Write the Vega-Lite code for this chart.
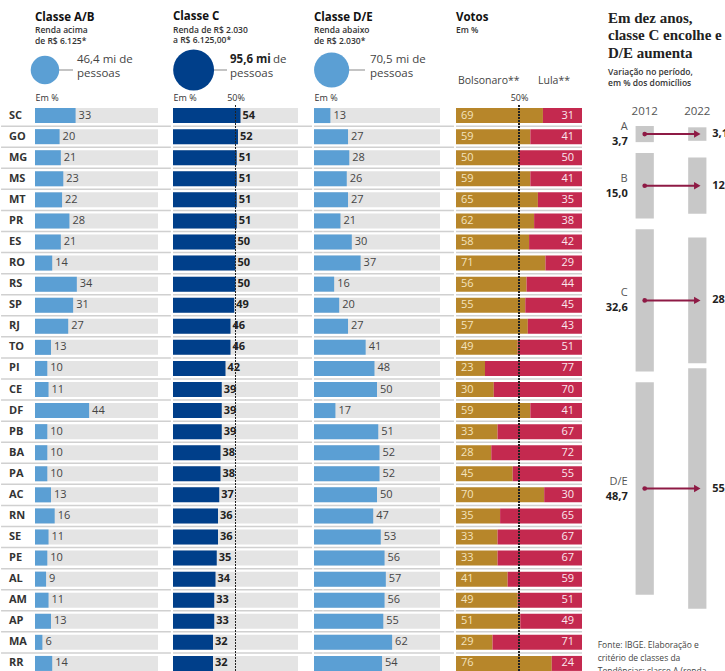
{
  "$schema": "https://vega.github.io/schema/vega-lite/v6.json",
  "background": "white",
  "padding": {"left": 0, "top": 10, "right": 0, "bottom": 0},
  "spacing": 0,
  "config": {
    "font": "Open Sans",
    "view": {"stroke": null},
    "locale": {"number": {"decimal": ",", "thousands": ".", "grouping": [3], "currency": ["R$ ", ""]}},
    "title": {"anchor": "start", "frame": "group", "fontSize": 11.5, "fontWeight": "bold", "color": "#111111", "subtitleFontSize": 8.5, "subtitleFontWeight": 600, "subtitleColor": "#333333", "subtitleLineHeight": 10.5, "subtitlePadding": 3, "offset": 5},
    "axisX": {"domain": false, "ticks": false, "grid": false, "labelFlush": false, "labelFontSize": 9, "labelColor": "#333333", "labelPadding": 3, "labelAngle": 0, "titleAnchor": "start", "titleAlign": "left", "titleX": 0, "titleY": -3, "titleBaseline": "bottom", "titleFontSize": 9, "titleFontWeight": "normal", "titleColor": "#333333", "titleAngle": 0}
  },
  "datasets": {
    "estados": [
      {"uf": "SC", "ab": 33, "c": 54, "de": 13, "bolso": 69, "lula": 31},
      {"uf": "GO", "ab": 20, "c": 52, "de": 27, "bolso": 59, "lula": 41},
      {"uf": "MG", "ab": 21, "c": 51, "de": 28, "bolso": 50, "lula": 50},
      {"uf": "MS", "ab": 23, "c": 51, "de": 26, "bolso": 59, "lula": 41},
      {"uf": "MT", "ab": 22, "c": 51, "de": 27, "bolso": 65, "lula": 35},
      {"uf": "PR", "ab": 28, "c": 51, "de": 21, "bolso": 62, "lula": 38},
      {"uf": "ES", "ab": 21, "c": 50, "de": 30, "bolso": 58, "lula": 42},
      {"uf": "RO", "ab": 14, "c": 50, "de": 37, "bolso": 71, "lula": 29},
      {"uf": "RS", "ab": 34, "c": 50, "de": 16, "bolso": 56, "lula": 44},
      {"uf": "SP", "ab": 31, "c": 49, "de": 20, "bolso": 55, "lula": 45},
      {"uf": "RJ", "ab": 27, "c": 46, "de": 27, "bolso": 57, "lula": 43},
      {"uf": "TO", "ab": 13, "c": 46, "de": 41, "bolso": 49, "lula": 51},
      {"uf": "PI", "ab": 10, "c": 42, "de": 48, "bolso": 23, "lula": 77},
      {"uf": "CE", "ab": 11, "c": 39, "de": 50, "bolso": 30, "lula": 70},
      {"uf": "DF", "ab": 44, "c": 39, "de": 17, "bolso": 59, "lula": 41},
      {"uf": "PB", "ab": 10, "c": 39, "de": 51, "bolso": 33, "lula": 67},
      {"uf": "BA", "ab": 10, "c": 38, "de": 52, "bolso": 28, "lula": 72},
      {"uf": "PA", "ab": 10, "c": 38, "de": 52, "bolso": 45, "lula": 55},
      {"uf": "AC", "ab": 13, "c": 37, "de": 50, "bolso": 70, "lula": 30},
      {"uf": "RN", "ab": 16, "c": 36, "de": 47, "bolso": 35, "lula": 65},
      {"uf": "SE", "ab": 11, "c": 36, "de": 53, "bolso": 33, "lula": 67},
      {"uf": "PE", "ab": 10, "c": 35, "de": 56, "bolso": 33, "lula": 67},
      {"uf": "AL", "ab": 9, "c": 34, "de": 57, "bolso": 41, "lula": 59},
      {"uf": "AM", "ab": 11, "c": 33, "de": 56, "bolso": 49, "lula": 51},
      {"uf": "AP", "ab": 13, "c": 33, "de": 55, "bolso": 51, "lula": 49},
      {"uf": "MA", "ab": 6, "c": 32, "de": 62, "bolso": 29, "lula": 71},
      {"uf": "RR", "ab": 14, "c": 32, "de": 54, "bolso": 76, "lula": 24}
    ],
    "populacao": [
      {"classe": "A/B", "pop": 46.4},
      {"classe": "C", "pop": 95.6},
      {"classe": "D/E", "pop": 70.5}
    ],
    "domicilios": [
      {"classe": "A", "ordem": 1, "2012": 3.7, "2022": 3.1},
      {"classe": "B", "ordem": 2, "2012": 15.0, "2022": 12.9},
      {"classe": "C", "ordem": 3, "2012": 32.6, "2022": 28.8},
      {"classe": "D/E", "ordem": 4, "2012": 48.7, "2022": 55.2}
    ]
  },
  "hconcat": [
    {
      "bounds": "flush",
      "spacing": 15,
      "vconcat": [
        {
          "width": 123, "height": 40,
          "title": {"text": "Classe A/B", "subtitle": ["Renda acima", "de R$ 6.125*"]},
          "data": {"name": "populacao"},
          "transform": [{"filter": "datum.classe == 'A/B'"}],
          "encoding": {"y": {"datum": 0, "type": "quantitative", "scale": {"domain": [-1, 1]}, "axis": null}},
          "layer": [
            {"mark": {"type": "rule", "color": "#b0b0b0", "strokeWidth": 1.5},
             "encoding": {"x": {"datum": 19.5, "type": "quantitative", "scale": {"domain": [0, 100], "nice": false, "zero": false}, "axis": null}, "x2": {"datum": 30.9}}},
            {"mark": {"type": "point", "filled": true, "opacity": 1, "color": "#5b9fd4"},
             "encoding": {"x": {"datum": 8.1, "type": "quantitative", "axis": null}, "size": {"field": "pop", "type": "quantitative", "scale": {"domain": [0, 100], "range": [0, 1750]}, "legend": null}}},
            {"mark": {"type": "text", "align": "left", "baseline": "middle", "fontSize": 11.5, "lineHeight": 14, "color": "#444444", "dy": -10, "text": ["46,4 mi de", "pessoas"]},
             "encoding": {"x": {"datum": 34.1, "type": "quantitative", "axis": null}}}
          ]
        },
        {
          "width": 123, "height": 569,
          "data": {"name": "estados"},
          "layer": [
            {"mark": {"type": "bar", "color": "#e4e4e4"},
             "encoding": {
               "y": {"field": "uf", "type": "nominal", "sort": null, "axis": null, "scale": {"domain": ["SC","GO","MG","MS","MT","PR","ES","RO","RS","SP","RJ","TO","PI","CE","DF","PB","BA","PA","AC","RN","SE","PE","AL","AM","AP","MA","RR"], "paddingInner": 0.288, "paddingOuter": 0.146}},
               "x": {"datum": 0, "type": "quantitative", "scale": {"domain": [0, 100], "nice": false, "zero": false}, "axis": {"orient": "top", "values": [], "labels": false, "title": "Em %"}},
               "x2": {"datum": 100}}},
            {"mark": {"type": "rule", "color": "#d0d0d0", "strokeWidth": 1.5, "yOffset": -3},
             "transform": [{"filter": "datum.uf != 'SC'"}],
             "encoding": {"x": {"datum": -27.6, "type": "quantitative", "axis": {"orient": "top", "values": [], "labels": false, "title": "Em %"}}, "x2": {"datum": 110.5}, "y": {"field": "uf", "type": "nominal", "sort": null, "bandPosition": 0, "axis": null}}},
            {"mark": {"type": "bar", "color": "#5b9fd4"},
             "encoding": {"x": {"field": "ab", "type": "quantitative", "axis": {"orient": "top", "values": [], "labels": false, "title": "Em %"}}, "y": {"field": "uf", "type": "nominal", "sort": null, "axis": null}}},
            {"mark": {"type": "text", "align": "left", "baseline": "middle", "dx": 3, "fontSize": 11, "color": "#444444"},
             "encoding": {"x": {"field": "ab", "type": "quantitative", "axis": {"orient": "top", "values": [], "labels": false, "title": "Em %"}}, "y": {"field": "uf", "type": "nominal", "sort": null, "axis": null}, "text": {"field": "ab", "type": "quantitative"}}},
            {"mark": {"type": "text", "align": "left", "baseline": "middle", "dx": -26, "fontSize": 11, "fontWeight": "bold", "color": "#333333"},
             "encoding": {"x": {"datum": 0, "type": "quantitative", "axis": {"orient": "top", "values": [], "labels": false, "title": "Em %"}}, "y": {"field": "uf", "type": "nominal", "sort": null, "axis": null}, "text": {"field": "uf", "type": "nominal"}}}
          ]
        }
      ]
    },
    {
      "bounds": "flush",
      "spacing": 15,
      "vconcat": [
        {
          "width": 125, "height": 40,
          "title": {"text": "Classe C", "subtitle": ["Renda de R$ 2.030", "a R$ 6.125,00*"]},
          "data": {"name": "populacao"},
          "transform": [{"filter": "datum.classe == 'C'"}],
          "encoding": {"y": {"datum": 0, "type": "quantitative", "scale": {"domain": [-1, 1]}, "axis": null}},
          "layer": [
            {"mark": {"type": "rule", "color": "#b0b0b0", "strokeWidth": 1.5},
             "encoding": {"x": {"datum": 32, "type": "quantitative", "scale": {"domain": [0, 100], "nice": false, "zero": false}, "axis": null}, "x2": {"datum": 43.2}}},
            {"mark": {"type": "point", "filled": true, "opacity": 1, "color": "#003f8a"},
             "encoding": {"x": {"datum": 16.5, "type": "quantitative", "axis": null}, "size": {"field": "pop", "type": "quantitative", "scale": {"domain": [0, 100], "range": [0, 1750]}, "legend": null}}},
            {"mark": {"type": "text", "align": "left", "baseline": "middle", "fontSize": 11.5, "fontWeight": "bold", "color": "#222222", "dy": -10, "text": "95,6 mi"},
             "encoding": {"x": {"datum": 45.6, "type": "quantitative", "axis": null}}},
            {"mark": {"type": "text", "align": "left", "baseline": "middle", "fontSize": 11.5, "color": "#444444", "dy": -10, "text": "de"},
             "encoding": {"x": {"datum": 80, "type": "quantitative", "axis": null}}},
            {"mark": {"type": "text", "align": "left", "baseline": "middle", "fontSize": 11.5, "color": "#444444", "dy": 4, "text": "pessoas"},
             "encoding": {"x": {"datum": 45.6, "type": "quantitative", "axis": null}}}
          ]
        },
        {
          "width": 125, "height": 569,
          "data": {"name": "estados"},
          "layer": [
            {"mark": {"type": "bar", "color": "#e4e4e4"},
             "encoding": {
               "y": {"field": "uf", "type": "nominal", "sort": null, "axis": null, "scale": {"domain": ["SC","GO","MG","MS","MT","PR","ES","RO","RS","SP","RJ","TO","PI","CE","DF","PB","BA","PA","AC","RN","SE","PE","AL","AM","AP","MA","RR"], "paddingInner": 0.288, "paddingOuter": 0.146}},
               "x": {"datum": 0, "type": "quantitative", "scale": {"domain": [0, 100], "nice": false, "zero": false}, "axis": {"orient": "top", "values": [50], "labelExpr": "'50%'", "title": "Em %"}},
               "x2": {"datum": 100}}},
            {"mark": {"type": "rule", "color": "#d0d0d0", "strokeWidth": 1.5, "yOffset": -3},
             "transform": [{"filter": "datum.uf != 'SC'"}],
             "encoding": {"x": {"datum": 0, "type": "quantitative", "axis": {"orient": "top", "values": [50], "labelExpr": "'50%'", "title": "Em %"}}, "x2": {"datum": 111.2}, "y": {"field": "uf", "type": "nominal", "sort": null, "bandPosition": 0, "axis": null}}},
            {"mark": {"type": "bar", "color": "#003f8a"},
             "encoding": {"x": {"field": "c", "type": "quantitative", "axis": {"orient": "top", "values": [50], "labelExpr": "'50%'", "title": "Em %"}}, "y": {"field": "uf", "type": "nominal", "sort": null, "axis": null}}},
            {"mark": {"type": "text", "align": "left", "baseline": "middle", "dx": 2, "fontSize": 11, "fontWeight": "bold", "color": "#222222"},
             "encoding": {"x": {"field": "c", "type": "quantitative", "axis": {"orient": "top", "values": [50], "labelExpr": "'50%'", "title": "Em %"}}, "y": {"field": "uf", "type": "nominal", "sort": null, "axis": null}, "text": {"field": "c", "type": "quantitative"}}},
            {"mark": {"type": "rule", "color": "#222222", "strokeWidth": 1, "strokeDash": [1.5, 1.5]},
             "encoding": {"x": {"datum": 50, "type": "quantitative", "axis": {"orient": "top", "values": [50], "labelExpr": "'50%'", "title": "Em %"}}}}
          ]
        }
      ]
    },
    {
      "bounds": "flush",
      "spacing": 15,
      "vconcat": [
        {
          "width": 126, "height": 40,
          "title": {"text": "Classe D/E", "subtitle": ["Renda abaixo", "de R$ 2.030*"]},
          "data": {"name": "populacao"},
          "transform": [{"filter": "datum.classe == 'D/E'"}],
          "encoding": {"y": {"datum": 0, "type": "quantitative", "scale": {"domain": [-1, 1]}, "axis": null}},
          "layer": [
            {"mark": {"type": "rule", "color": "#b0b0b0", "strokeWidth": 1.5},
             "encoding": {"x": {"datum": 27, "type": "quantitative", "scale": {"domain": [0, 100], "nice": false, "zero": false}, "axis": null}, "x2": {"datum": 40.5}}},
            {"mark": {"type": "point", "filled": true, "opacity": 1, "color": "#5b9fd4"},
             "encoding": {"x": {"datum": 14, "type": "quantitative", "axis": null}, "size": {"field": "pop", "type": "quantitative", "scale": {"domain": [0, 100], "range": [0, 1750]}, "legend": null}}},
            {"mark": {"type": "text", "align": "left", "baseline": "middle", "fontSize": 11.5, "lineHeight": 14, "color": "#444444", "dy": -10, "text": ["70,5 mi de", "pessoas"]},
             "encoding": {"x": {"datum": 44.4, "type": "quantitative", "axis": null}}}
          ]
        },
        {
          "width": 126, "height": 569,
          "data": {"name": "estados"},
          "layer": [
            {"mark": {"type": "bar", "color": "#e4e4e4"},
             "encoding": {
               "y": {"field": "uf", "type": "nominal", "sort": null, "axis": null, "scale": {"domain": ["SC","GO","MG","MS","MT","PR","ES","RO","RS","SP","RJ","TO","PI","CE","DF","PB","BA","PA","AC","RN","SE","PE","AL","AM","AP","MA","RR"], "paddingInner": 0.288, "paddingOuter": 0.146}},
               "x": {"datum": 0, "type": "quantitative", "scale": {"domain": [0, 100], "nice": false, "zero": false}, "axis": {"orient": "top", "values": [], "labels": false, "title": "Em %"}},
               "x2": {"datum": 100}}},
            {"mark": {"type": "rule", "color": "#d0d0d0", "strokeWidth": 1.5, "yOffset": -3},
             "transform": [{"filter": "datum.uf != 'SC'"}],
             "encoding": {"x": {"datum": 0, "type": "quantitative", "axis": {"orient": "top", "values": [], "labels": false, "title": "Em %"}}, "x2": {"datum": 111.1}, "y": {"field": "uf", "type": "nominal", "sort": null, "bandPosition": 0, "axis": null}}},
            {"mark": {"type": "bar", "color": "#5b9fd4"},
             "encoding": {"x": {"field": "de", "type": "quantitative", "axis": {"orient": "top", "values": [], "labels": false, "title": "Em %"}}, "y": {"field": "uf", "type": "nominal", "sort": null, "axis": null}}},
            {"mark": {"type": "text", "align": "left", "baseline": "middle", "dx": 3, "fontSize": 11, "color": "#444444"},
             "encoding": {"x": {"field": "de", "type": "quantitative", "axis": {"orient": "top", "values": [], "labels": false, "title": "Em %"}}, "y": {"field": "uf", "type": "nominal", "sort": null, "axis": null}, "text": {"field": "de", "type": "quantitative"}}}
          ]
        }
      ]
    },
    {
      "bounds": "flush",
      "spacing": 15,
      "vconcat": [
        {
          "width": 126, "height": 40,
          "title": {"text": "Votos", "subtitle": "Em %", "offset": 15.5},
          "data": {"values": [{"rotulo": "votos"}]},
          "encoding": {"y": {"datum": 0, "type": "quantitative", "scale": {"domain": [-1, 1]}, "axis": null}},
          "layer": [
            {"mark": {"type": "text", "align": "left", "baseline": "middle", "fontSize": 10.5, "color": "#444444", "dx": 2, "dy": 11, "text": "Bolsonaro**"},
             "encoding": {"x": {"datum": 0, "type": "quantitative", "scale": {"domain": [0, 100], "nice": false, "zero": false}, "axis": null}}},
            {"mark": {"type": "text", "align": "right", "baseline": "middle", "fontSize": 10.5, "color": "#444444", "dx": -12, "dy": 11, "text": "Lula**"},
             "encoding": {"x": {"datum": 100, "type": "quantitative", "axis": null}}}
          ]
        },
        {
          "width": 126, "height": 569,
          "data": {"name": "estados"},
          "layer": [
            {"mark": {"type": "bar", "color": "#b7862a"},
             "encoding": {
               "y": {"field": "uf", "type": "nominal", "sort": null, "axis": null, "scale": {"domain": ["SC","GO","MG","MS","MT","PR","ES","RO","RS","SP","RJ","TO","PI","CE","DF","PB","BA","PA","AC","RN","SE","PE","AL","AM","AP","MA","RR"], "paddingInner": 0.288, "paddingOuter": 0.146}},
               "x": {"field": "bolso", "type": "quantitative", "scale": {"domain": [0, 100], "nice": false, "zero": true}, "axis": {"orient": "top", "values": [50], "labelExpr": "'50%'", "title": null}}}},
            {"mark": {"type": "rule", "color": "#d0d0d0", "strokeWidth": 1.5, "yOffset": -3},
             "transform": [{"filter": "datum.uf != 'SC'"}],
             "encoding": {"x": {"datum": 0, "type": "quantitative", "axis": {"orient": "top", "values": [50], "labelExpr": "'50%'", "title": null}}, "x2": {"datum": 100}, "y": {"field": "uf", "type": "nominal", "sort": null, "bandPosition": 0, "axis": null}}},
            {"mark": {"type": "bar", "color": "#c4294f"},
             "encoding": {"x": {"field": "bolso", "type": "quantitative", "axis": {"orient": "top", "values": [50], "labelExpr": "'50%'", "title": null}}, "x2": {"datum": 100}, "y": {"field": "uf", "type": "nominal", "sort": null, "axis": null}}},
            {"mark": {"type": "text", "align": "left", "baseline": "middle", "dx": 5, "fontSize": 11, "color": "#f3e3bf"},
             "encoding": {"x": {"datum": 0, "type": "quantitative", "axis": {"orient": "top", "values": [50], "labelExpr": "'50%'", "title": null}}, "y": {"field": "uf", "type": "nominal", "sort": null, "axis": null}, "text": {"field": "bolso", "type": "quantitative"}}},
            {"mark": {"type": "text", "align": "right", "baseline": "middle", "dx": -8, "fontSize": 11, "color": "#fbe7ed"},
             "encoding": {"x": {"datum": 100, "type": "quantitative", "axis": {"orient": "top", "values": [50], "labelExpr": "'50%'", "title": null}}, "y": {"field": "uf", "type": "nominal", "sort": null, "axis": null}, "text": {"field": "lula", "type": "quantitative"}}},
            {"mark": {"type": "rule", "color": "#222222", "strokeWidth": 1, "strokeDash": [1.5, 1.5]},
             "encoding": {"x": {"datum": 50, "type": "quantitative", "axis": {"orient": "top", "values": [50], "labelExpr": "'50%'", "title": null}}}}
          ]
        }
      ]
    },
    {
      "width": 176, "height": 624,
      "title": {"text": ["Em dez anos,", "classe C encolhe e", "D/E aumenta"], "subtitle": ["Variação no período,", "em % dos domicílios"], "font": "Liberation Serif", "fontSize": 15, "lineHeight": 17.5, "fontWeight": "bold", "color": "#222222", "subtitleFont": "Open Sans", "subtitleFontSize": 8.5, "subtitleFontWeight": 600, "subtitleColor": "#333333", "subtitleLineHeight": 11, "subtitlePadding": 7, "dx": 25, "offset": -37},
      "data": {"name": "domicilios"},
      "transform": [
        {"window": [{"op": "sum", "field": "2012", "as": "cum12"}], "sort": [{"field": "ordem"}], "frame": [null, 0]},
        {"calculate": "datum.cum12 - datum['2012'] / 2 + (datum.ordem - 1) * 2.5", "as": "centro"},
        {"fold": ["2012", "2022"], "as": ["ano", "pct"]},
        {"calculate": "datum.centro - datum.pct / 2", "as": "y0"},
        {"calculate": "datum.centro + datum.pct / 2", "as": "y1"}
      ],
      "encoding": {"x": {"field": "ano", "type": "nominal", "scale": {"domain": ["2012", "2022"], "paddingInner": 0.653, "paddingOuter": 1.122},
        "axis": {"orient": "top", "offset": -66, "title": null, "labelPadding": 0, "labelBaseline": "bottom", "labelFontSize": 11.5, "labelColor": "#555555"}}},
      "layer": [
        {"mark": {"type": "bar", "color": "#c8c8c8"},
         "encoding": {"y": {"field": "y0", "type": "quantitative", "scale": {"domain": [-17.43, 125.69], "reverse": true, "nice": false, "zero": false}, "axis": null}, "y2": {"field": "y1"}}},
        {"mark": {"type": "line", "color": "#8e1a45", "strokeWidth": 2},
         "encoding": {"y": {"field": "centro", "type": "quantitative", "axis": null}, "detail": {"field": "classe"}}},
        {"mark": {"type": "point", "shape": "circle", "filled": true, "opacity": 1, "size": 22, "color": "#8e1a45"},
         "transform": [{"filter": "datum.ano == '2012'"}],
         "encoding": {"y": {"field": "centro", "type": "quantitative", "axis": null}}},
        {"mark": {"type": "point", "shape": "triangle-right", "filled": true, "opacity": 1, "size": 55, "color": "#8e1a45"},
         "transform": [{"filter": "datum.ano == '2022'"}],
         "encoding": {"y": {"field": "centro", "type": "quantitative", "axis": null}}},
        {"mark": {"type": "text", "align": "right", "baseline": "middle", "dx": -17, "dy": -7, "fontSize": 11, "color": "#555555"},
         "transform": [{"filter": "datum.ano == '2012'"}],
         "encoding": {"y": {"field": "centro", "type": "quantitative", "axis": null}, "text": {"field": "classe"}}},
        {"mark": {"type": "text", "align": "right", "baseline": "middle", "dx": -17, "dy": 8, "fontSize": 11, "fontWeight": "bold", "color": "#222222"},
         "transform": [{"filter": "datum.ano == '2012'"}],
         "encoding": {"y": {"field": "centro", "type": "quantitative", "axis": null}, "text": {"field": "pct", "type": "quantitative", "format": ".1f"}}},
        {"mark": {"type": "text", "align": "left", "baseline": "middle", "dx": 15, "fontSize": 11, "fontWeight": "bold", "color": "#222222"},
         "transform": [{"filter": "datum.ano == '2022'"}],
         "encoding": {"y": {"field": "centro", "type": "quantitative", "axis": null}, "text": {"field": "pct", "type": "quantitative", "format": ".1f"}}},
        {"data": {"values": [{"nota": "fonte"}]},
         "mark": {"type": "text", "align": "left", "baseline": "top", "dx": -47, "fontSize": 8.5, "lineHeight": 13, "color": "#444444", "text": ["Fonte: IBGE. Elaboração e", "critério de classes da", "Tendências; classe A (renda"]},
         "encoding": {"x": {"datum": "2012", "type": "nominal", "axis": {"orient": "top", "offset": -66, "title": null, "labelPadding": 0, "labelBaseline": "bottom", "labelFontSize": 11.5, "labelColor": "#555555"}}, "y": {"datum": 118.1, "type": "quantitative", "axis": null}}}
      ]
    }
  ]
}
